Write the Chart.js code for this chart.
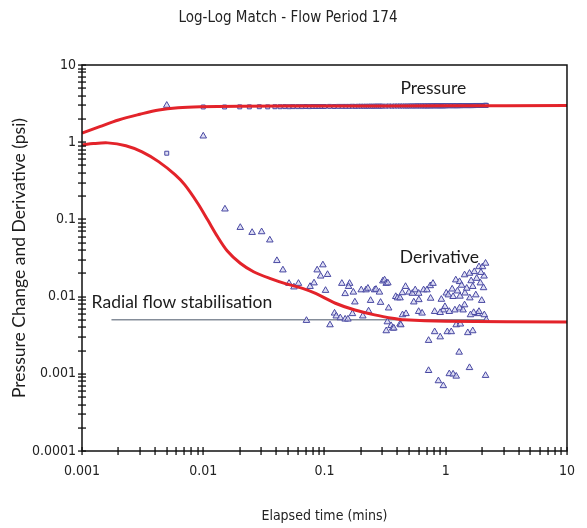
<!DOCTYPE html>
<html>
<head>
<meta charset="utf-8">
<script src="https://cdn.jsdelivr.net/npm/chart.js@4.4.1/dist/chart.umd.min.js"></script>
<style>
  html, body { margin: 0; padding: 0; background: #fff; }
  #wrap { width: 587px; height: 528px; }
</style>
</head>
<body>
<div id="wrap"><canvas id="myChart"></canvas></div>
<script>
// decade labels on the two log axes
var xDecades = [0.001, 0.01, 0.1, 1, 10];
var yDecades = [0.0001, 0.001, 0.01, 0.1, 1, 10];

// measured pressure change (psi) vs elapsed time (mins)
var presTime = [0.005, 0.01, 0.015, 0.02, 0.024, 0.029, 0.034, 0.039, 0.043, 0.047,
  0.051, 0.055, 0.06, 0.065, 0.07, 0.075, 0.08, 0.085, 0.09, 0.095,
  0.1, 0.11, 0.12, 0.13, 0.14, 0.15, 0.16, 0.17, 0.18, 0.19,
  0.2, 0.21, 0.22, 0.23, 0.24, 0.25, 0.26, 0.27, 0.28, 0.29,
  0.3, 0.32, 0.34, 0.36, 0.38, 0.4, 0.42, 0.44, 0.46, 0.48,
  0.5, 0.52, 0.54, 0.56, 0.58, 0.6, 0.62, 0.64, 0.66, 0.68,
  0.7, 0.72, 0.74, 0.76, 0.78, 0.8, 0.82, 0.84, 0.86, 0.88,
  0.9, 0.92, 0.94, 0.96, 0.98, 1.0, 1.03, 1.06, 1.09, 1.12,
  1.15, 1.18, 1.21, 1.24, 1.27, 1.3, 1.33, 1.36, 1.39, 1.42,
  1.45, 1.48, 1.51, 1.54, 1.57, 1.6, 1.63, 1.66, 1.69, 1.72,
  1.75, 1.78, 1.81, 1.84, 1.87, 1.9, 1.93, 1.96, 1.99, 2.02,
  2.05, 2.08, 2.11, 2.14, 2.16];
var presValue = [0.72, 2.86, 2.86, 2.87, 2.87, 2.88, 2.87, 2.88, 2.88, 2.89,
  2.88, 2.89, 2.89, 2.89, 2.9, 2.89, 2.9, 2.9, 2.9, 2.9,
  2.9, 2.91, 2.9, 2.91, 2.91, 2.91, 2.91, 2.92, 2.91, 2.92,
  2.92, 2.92, 2.92, 2.92, 2.93, 2.92, 2.93, 2.93, 2.93, 2.93,
  2.93, 2.93, 2.94, 2.93, 2.94, 2.94, 2.94, 2.94, 2.94, 2.94,
  2.94, 2.95, 2.94, 2.95, 2.95, 2.95, 2.95, 2.95, 2.95, 2.95,
  2.95, 2.95, 2.96, 2.95, 2.96, 2.96, 2.96, 2.96, 2.96, 2.96,
  2.96, 2.96, 2.96, 2.96, 2.97, 2.96, 2.97, 2.97, 2.97, 2.97,
  2.97, 2.97, 2.97, 2.97, 2.97, 2.98, 2.97, 2.98, 2.98, 2.98,
  2.98, 2.98, 2.98, 2.98, 2.98, 2.98, 2.98, 2.98, 2.99, 2.98,
  2.99, 2.99, 2.99, 2.99, 2.99, 2.99, 2.99, 2.99, 2.99, 2.99,
  2.99, 2.99, 3.0, 3.0, 3.0];

// measured pressure derivative
var derivTime = [0.005, 0.01, 0.0151, 0.0202, 0.0253, 0.0303, 0.0354, 0.0405, 0.0454, 0.051,
  0.056, 0.061, 0.071, 0.076, 0.082, 0.087, 0.093, 0.097, 0.102, 0.106,
  0.111, 0.121, 0.125, 0.135, 0.139, 0.148, 0.148, 0.156, 0.161, 0.158,
  0.170, 0.173, 0.178, 0.201, 0.207, 0.220, 0.228, 0.231, 0.240, 0.259,
  0.266, 0.284, 0.290, 0.303, 0.313, 0.323, 0.323, 0.330, 0.333, 0.338,
  0.354, 0.365, 0.373, 0.387, 0.400, 0.420, 0.420, 0.426, 0.438, 0.466,
  0.497, 0.530, 0.545, 0.560, 0.598, 0.598, 0.638, 0.657, 0.700, 0.722,
  0.722, 0.745, 0.785, 0.81, 0.81, 0.87, 0.90, 0.955, 0.955, 0.985,
  1.03, 1.01, 1.05, 1.07, 1.07, 1.11, 1.15, 1.15, 1.19, 1.22,
  1.22, 1.21, 1.29, 1.30, 1.30, 1.32, 1.31, 1.39, 1.43, 1.43,
  1.44, 1.52, 1.57, 1.57, 1.58, 1.67, 1.67, 1.72, 1.77, 1.83,
  1.88, 1.88, 1.93, 1.98, 2.01, 2.07, 2.08, 2.13, 2.13, 2.16,
  1.13, 1.49, 1.25, 1.35, 1.62, 1.80, 1.95, 2.05, 1.7, 1.6,
  0.44, 0.47, 0.9, 0.92, 0.6, 0.75];
var derivValue = [3.0, 1.2, 0.136, 0.0785, 0.0676, 0.069, 0.054, 0.0292, 0.0221, 0.0148,
  0.0133, 0.0148, 0.0049, 0.0135, 0.0150, 0.0221, 0.0184, 0.0257, 0.0120, 0.0193,
  0.0043, 0.0061, 0.0056, 0.0053, 0.0148, 0.0051, 0.0109, 0.0051, 0.0148, 0.0135,
  0.0060, 0.0114, 0.0085, 0.0122, 0.0056, 0.0122, 0.0128, 0.0065, 0.0089, 0.0122,
  0.0124, 0.0114, 0.0084, 0.0159, 0.0164, 0.0148, 0.0036, 0.0047, 0.0150, 0.0071,
  0.0042, 0.0039, 0.0039, 0.0100, 0.0096, 0.0096, 0.0044, 0.0043, 0.0112, 0.0135,
  0.0114, 0.0110, 0.0085, 0.0122, 0.0110, 0.0064, 0.0061, 0.0122, 0.0122, 0.0027,
  0.0011, 0.0138, 0.0148, 0.0064, 0.0035, 0.00081, 0.0030, 0.0067, 0.00070, 0.0074,
  0.0035, 0.0111, 0.0105, 0.0064, 0.0010, 0.0035, 0.00099, 0.0100, 0.0067, 0.00093,
  0.0043, 0.0164, 0.0019, 0.0071, 0.0156, 0.0044, 0.0101, 0.0067, 0.0191, 0.0078,
  0.0111, 0.0034, 0.0012, 0.0200, 0.0096, 0.0036, 0.0135, 0.0210, 0.0105, 0.0060,
  0.0243, 0.0064, 0.0150, 0.0089, 0.0243, 0.0184, 0.0058, 0.0270, 0.00095, 0.0050,
  0.0125, 0.0128, 0.0118, 0.0140, 0.0160, 0.0172, 0.0205, 0.0130, 0.0062, 0.0058,
  0.0058, 0.0060, 0.0062, 0.0092, 0.0091, 0.0095];

// model match: pressure
var modelPresTime = [0.001, 0.0014, 0.002, 0.003, 0.0043, 0.0062, 0.0095, 0.02, 0.1, 1, 10];
var modelPresValue = [1.31, 1.59, 1.94, 2.30, 2.62, 2.80, 2.88, 2.92, 2.94, 2.96, 2.98];

// model match: derivative
var modelDerivTime = [0.001, 0.00124, 0.00163, 0.0023, 0.00313, 0.00428, 0.00585, 0.00705, 0.009, 0.0109,
  0.0131, 0.0158, 0.0202, 0.026, 0.0354, 0.0483, 0.0659, 0.0845, 0.123, 0.178,
  0.259, 0.376, 0.453, 1, 10];
var modelDerivValue = [0.92, 0.96, 0.98, 0.90, 0.75, 0.56, 0.38, 0.28, 0.162, 0.098,
  0.060, 0.039, 0.027, 0.021, 0.0172, 0.0146, 0.0128, 0.0110, 0.0082, 0.0067,
  0.0058, 0.0052, 0.0050, 0.0048, 0.0047];

// radial flow stabilisation level
var radialTime = [0.00175, 2.2];
var radialValue = [0.005, 0.005];

function pairs(xs, ys) {
  return xs.map(function (x, i) { return { x: x, y: ys[i] }; });
}

// 1..9 steps inside every decade
function decadeTicks(decades) {
  var list = [];
  decades.forEach(function (d, i) {
    list.push(d);
    if (i < decades.length - 1) {
      for (var k = 2; k <= 9; k++) list.push(d * k);
    }
  });
  return list;
}

function decadeLabel(decades) {
  return function (value) {
    return decades.indexOf(value) >= 0 ? String(value) : '';
  };
}

var narrow = '"Liberation Sans Narrow", "DejaVu Sans Condensed", "Liberation Sans", sans-serif';
var noteFont = '17.5px Lato, "Open Sans", sans-serif';

// text labels placed in data coordinates
var notes = [
  { text: 'Pressure', x: 0.79, y: 5.0, align: 'center' },
  { text: 'Derivative', x: 0.885, y: 0.0326, align: 'center' },
  { text: 'Radial flow stabilisation', x: 0.0012, y: 0.0083, align: 'left' }
];

var frameAndTicks = {
  id: 'frameAndTicks',
  afterDraw: function (chart) {
    var c = chart.ctx, a = chart.chartArea;
    var xs = chart.scales.x, ys = chart.scales.y;
    c.save();
    c.setLineDash([]);
    c.strokeStyle = '#111';
    c.lineWidth = 1.5;
    c.strokeRect(a.left, a.top, a.right - a.left, a.bottom - a.top);

    // small ticks crossing the left and bottom axes
    c.fillStyle = '#111';
    decadeTicks(xDecades).forEach(function (v) {
      var px = Math.round(xs.getPixelForValue(v));
      c.fillRect(px - 0.6, a.bottom - 4, 1.3, 8);
    });
    decadeTicks(yDecades).forEach(function (v) {
      var py = Math.round(ys.getPixelForValue(v));
      c.fillRect(a.left - 4, py - 0.6, 8, 1.3);
    });

    c.fillStyle = '#1c1c1c';
    c.font = noteFont;
    c.textBaseline = 'middle';
    notes.forEach(function (n) {
      c.textAlign = n.align;
      c.fillText(n.text, xs.getPixelForValue(n.x), ys.getPixelForValue(n.y));
    });
    c.restore();
  }
};

var ptColor = '#4848a2';
var ptFill = 'rgba(210,210,240,0.7)';
var red = '#e3232a';

var canvas = document.getElementById('myChart');
var myChart = new Chart(canvas, {
  type: 'scatter',
  data: {
    datasets: [
      {
        label: 'Radial flow stabilisation',
        data: pairs(radialTime, radialValue),
        showLine: true,
        borderColor: '#4a5668',
        borderWidth: 1,
        pointRadius: 0,
        order: 4
      },
      {
        label: 'Pressure',
        data: pairs(presTime, presValue),
        pointStyle: 'rect',
        pointRadius: 2.8,
        borderColor: ptColor,
        backgroundColor: ptFill,
        borderWidth: 1,
        order: 3
      },
      {
        label: 'Derivative',
        data: pairs(derivTime, derivValue),
        pointStyle: 'triangle',
        pointRadius: 3.8,
        borderColor: ptColor,
        backgroundColor: ptFill,
        borderWidth: 1,
        order: 2
      },
      {
        label: 'Pressure model',
        data: pairs(modelPresTime, modelPresValue),
        showLine: true,
        tension: 0.35,
        borderColor: red,
        borderWidth: 3,
        pointRadius: 0,
        order: 1
      },
      {
        label: 'Derivative model',
        data: pairs(modelDerivTime, modelDerivValue),
        showLine: true,
        tension: 0.3,
        borderColor: red,
        borderWidth: 3,
        pointRadius: 0,
        order: 1
      }
    ]
  },
  options: {
    responsive: true,
    maintainAspectRatio: false,
    animation: false,
    layout: { padding: { left: 0, right: 11, top: 0, bottom: 0 } },
    plugins: {
      legend: { display: false },
      tooltip: { enabled: false },
      title: {
        display: true,
        text: 'Log-Log Match - Flow Period 174',
        color: '#222',
        font: { family: narrow, size: 15, weight: 'normal', lineHeight: 1.2 },
        padding: { top: 9, bottom: 38 }
      }
    },
    scales: {
      x: {
        type: 'logarithmic',
        min: 0.001,
        max: 10,
        afterBuildTicks: function (scale) {
          scale.ticks = xDecades.map(function (v) { return { value: v }; });
        },
        afterFit: function (scale) { scale.height = 77; },
        grid: { display: false, drawTicks: false },
        border: { display: false },
        ticks: {
          autoSkip: false,
          maxRotation: 0,
          padding: 12,
          color: '#222',
          font: { family: narrow, size: 14 },
          callback: decadeLabel(xDecades)
        },
        title: {
          display: true,
          text: 'Elapsed time (mins)',
          color: '#222',
          font: { family: narrow, size: 14 },
          padding: { top: 0, bottom: 3 }
        }
      },
      y: {
        type: 'logarithmic',
        min: 0.0001,
        max: 10,
        afterBuildTicks: function (scale) {
          scale.ticks = yDecades.map(function (v) { return { value: v }; });
        },
        afterFit: function (scale) { scale.width = 82; },
        grid: { display: false, drawTicks: false },
        border: { display: false },
        ticks: {
          autoSkip: false,
          padding: 6,
          color: '#222',
          font: { family: narrow, size: 14 },
          callback: decadeLabel(yDecades)
        },
        title: {
          display: true,
          text: 'Pressure Change and Derivative (psi)',
          color: '#1c1c1c',
          font: { family: 'Lato, "Open Sans", sans-serif', size: 17.5 },
          padding: { top: 9, bottom: 0 }
        }
      }
    }
  },
  plugins: [frameAndTicks]
});
</script>
</body>
</html>
